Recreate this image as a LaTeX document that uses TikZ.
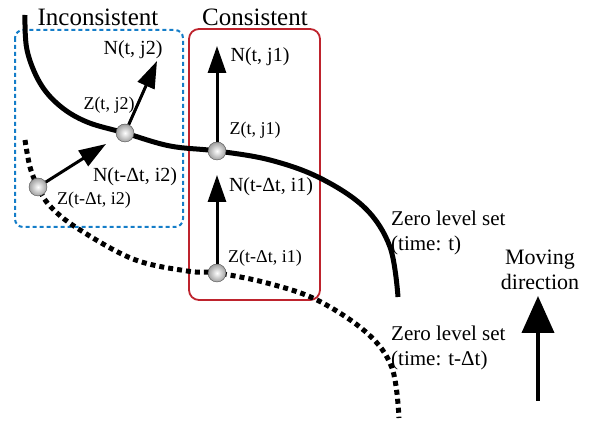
\documentclass[tikz,border=0pt]{standalone}
\usepackage{fontspec}
\setmainfont{Liberation Serif}
\usetikzlibrary{arrows.meta}
\definecolor{boxblue}{RGB}{20,125,200}
\definecolor{boxred}{RGB}{190,35,45}
\tikzset{
  ballnode/.style={circle, minimum size=18pt, inner sep=0pt, shading=radial, inner color=white, outer color=gray!75, draw=gray!60!black, line width=0.4pt},
  vec/.style={line width=3pt, -{Triangle[length=27pt,width=18pt]}},
  bigvec/.style={line width=4pt, -{Triangle[length=37pt,width=32pt]}},
  solidcurve/.style={line width=5pt},
  dotcurve/.style={line width=5pt, dash pattern=on 5pt off 4pt},
  lbl/.style={inner sep=0pt, font=\fontsize{20}{22}\selectfont},
  zlbl/.style={inner sep=0pt, font=\fontsize{18}{20}\selectfont},
  ttl/.style={inner sep=0pt, font=\fontsize{25}{28}\selectfont},
  side/.style={inner sep=0pt, align=left, anchor=west, font=\fontsize{21}{25}\selectfont},
}
\begin{document}
\begin{tikzpicture}[x=1pt,y=-1pt]
\useasboundingbox (0,0) rectangle (597,427);
% boxes
\draw[boxblue, line width=2pt, dash pattern=on 4pt off 3pt, rounded corners=8pt] (15,30) rectangle (183,227);
\draw[boxred, line width=1.8pt, rounded corners=10pt] (189,29) rectangle (320,300);
% curves
\draw[solidcurve] plot[smooth, tension=0.6] coordinates {(25,15) (27,50) (40,83) (60,106) (87,122) (125,133) (170,146) (217,151) (270,160) (320,178) (365,208) (390,247) (398,297)};
\draw[dotcurve] plot[smooth, tension=0.6] coordinates {(25,140) (30,167) (38,187) (50,206) (77,228) (133,259) (187,271) (217,273) (267,283) (317,300) (367,333) (392,368) (399,418)};
% balls
\node[ballnode] (zj2) at (125,133) {};
\node[ballnode] (zi2) at (38,187) {};
\node[ballnode] (zj1) at (217,151) {};
\node[ballnode] (zi1) at (217,273) {};
\coordinate (nj2) at (157,61);
\coordinate (ni2) at (106,144);
\coordinate (nj1) at (217,46);
\coordinate (ni1) at (217,175);
\coordinate (mvs) at (538,401);
\coordinate (mve) at (538,296);
\draw[vec] (zj2) -- (nj2);
\draw[vec] (zi2) -- (ni2);
\draw[vec] (zj1) -- (nj1);
\draw[vec] (zi1) -- (ni1);
\draw[bigvec] (mvs) -- (mve);
% titles
\node[ttl] (tinc) at (98,17) {Inconsistent};
\node[ttl] (tcon) at (255,17) {Consistent};
% labels
\node[lbl] (lnj2) at (133,50) {N(t, j2)};
\node[zlbl] (lzj2) at (109,105) {Z(t, j2)};
\node[lbl] (lni2) at (135,177) {N(t-Δt, i2)};
\node[zlbl] (lzi2) at (94,200) {Z(t-Δt, i2)};
\node[lbl] (lnj1) at (260,57) {N(t, j1)};
\node[zlbl] (lzj1) at (255,130) {Z(t, j1)};
\node[lbl] (lni1) at (271,187) {N(t-Δt, i1)};
\node[zlbl] (lzi1) at (265,258) {Z(t-Δt, i1)};
\node[side] (zl1) at (391,233) {Zero level set\\(time: t)};
\node[side] (zl2) at (391,348) {Zero level set\\(time: t-Δt)};
\node[inner sep=0pt, align=center, font=\fontsize{22}{25}\selectfont] (mv) at (540,270) {Moving\\direction};
\end{tikzpicture}
\end{document}
